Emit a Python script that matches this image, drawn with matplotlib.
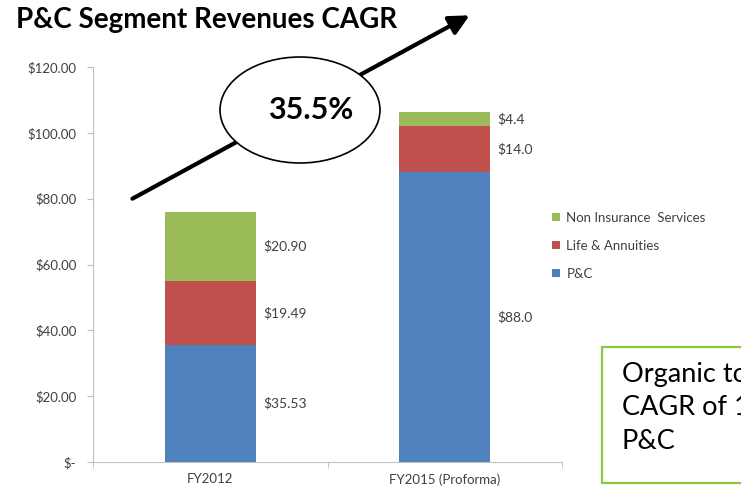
import matplotlib
matplotlib.use("Agg")
import matplotlib.pyplot as plt
from matplotlib.patches import Ellipse, Rectangle, FancyArrowPatch
from matplotlib.ticker import FuncFormatter

# data
categories = ["FY2012", "FY2015 (Proforma)"]
pc = [35.53, 88.0]
life = [19.49, 14.0]
non_ins = [20.90, 4.4]
pc_labels = ["$35.53", "$88.0"]
life_labels = ["$19.49", "$14.0"]
non_labels = ["$20.90", "$4.4"]
cagr_text = "35.5%"

blue = "#4F81BD"
red = "#C0504D"
green = "#9BBB59"
txt = "#404040"

plt.rcParams['font.family'] = ['Lato', 'DejaVu Sans']

fig = plt.figure(figsize=(7.41, 4.93), dpi=100)
ax = fig.add_axes([93 / 741, 1 - 462 / 493, (562 - 93) / 741, (462 - 67) / 493])

x = list(range(len(categories)))
w = 0.39
b1 = ax.bar(x, pc, w, color=blue, label="P&C")
b2 = ax.bar(x, life, w, bottom=pc, color=red, label="Life & Annuities")
bottom3 = [a + b for a, b in zip(pc, life)]
b3 = ax.bar(x, non_ins, w, bottom=bottom3, color=green, label="Non Insurance  Services")

# value labels right of the bars
for bars, labs in [(b1, pc_labels), (b2, life_labels), (b3, non_labels)]:
    for rect, lab in zip(bars, labs):
        ax.annotate(lab, (rect.get_x() + rect.get_width(), rect.get_y() + rect.get_height() / 2),
                    xytext=(5, 0), textcoords="offset points", va="center", ha="left",
                    fontsize=10, color=txt)

ax.set_xlim(-0.5, 1.5)
ax.set_ylim(0, 120)
ax.set_yticks(range(0, 121, 20))
ax.yaxis.set_major_formatter(FuncFormatter(lambda v, p: "$-" if v == 0 else f"${v:.2f}"))
ax.set_xticks(x)
ax.set_xticklabels(categories)
ax.set_xticks([-0.5, 0.5, 1.5], minor=True)
ax.tick_params(axis="x", which="major", length=0, labelsize=9.5, labelcolor=txt, pad=8)
ax.tick_params(axis="x", which="minor", length=4, color="#BFBFBF")
ax.tick_params(axis="y", length=4, color="#BFBFBF", labelsize=9.5, labelcolor=txt, pad=8)
for s in ["top", "right"]:
    ax.spines[s].set_visible(False)
for s in ["left", "bottom"]:
    ax.spines[s].set_color("#BFBFBF")

handles, labels = ax.get_legend_handles_labels()
fig.legend(handles[::-1], labels[::-1], loc="upper left", bbox_to_anchor=(540 / 741, 1 - 200 / 493),
           frameon=False, fontsize=9.5, handlelength=0.6, handleheight=0.6,
           handletextpad=0.5, labelspacing=1.2, labelcolor=txt)

# title
fig.text(16 / 741, 1 - 28 / 493, "P&C Segment Revenues CAGR", fontsize=20, fontweight="bold",
         ha="left", va="baseline")

# CAGR arrow + bubble
fig.patches.append(FancyArrowPatch(
    (130 / 741, 1 - 200 / 493), (472 / 741, 1 - 14 / 493), transform=fig.transFigure,
    arrowstyle="-|>,head_length=8,head_width=4", mutation_scale=1.5, lw=3, color="black"))
fig.patches.append(Ellipse((300 / 741, 1 - 110 / 493), 160 / 741, 106 / 493, transform=fig.transFigure,
                           facecolor="white", edgecolor="black", lw=1.2, zorder=5))
fig.text(311 / 741, 1 - 110 / 493, cagr_text, fontsize=22, fontweight="bold", ha="center",
         va="center", zorder=6)

# green note box (runs off the right edge, as in the original slide)
fig.patches.append(Rectangle((602 / 741, 1 - 483 / 493), 200 / 741, 136 / 493, transform=fig.transFigure,
                             facecolor="white", edgecolor="#8DC63F", lw=1.6, zorder=5))
fig.text(622 / 741, 1 - 362 / 493, "Organic top-line\nCAGR of 10% in\nP&C", fontsize=19.5,
         ha="left", va="top", linespacing=1.42, zorder=6)

fig.savefig("out.png", dpi=100)
